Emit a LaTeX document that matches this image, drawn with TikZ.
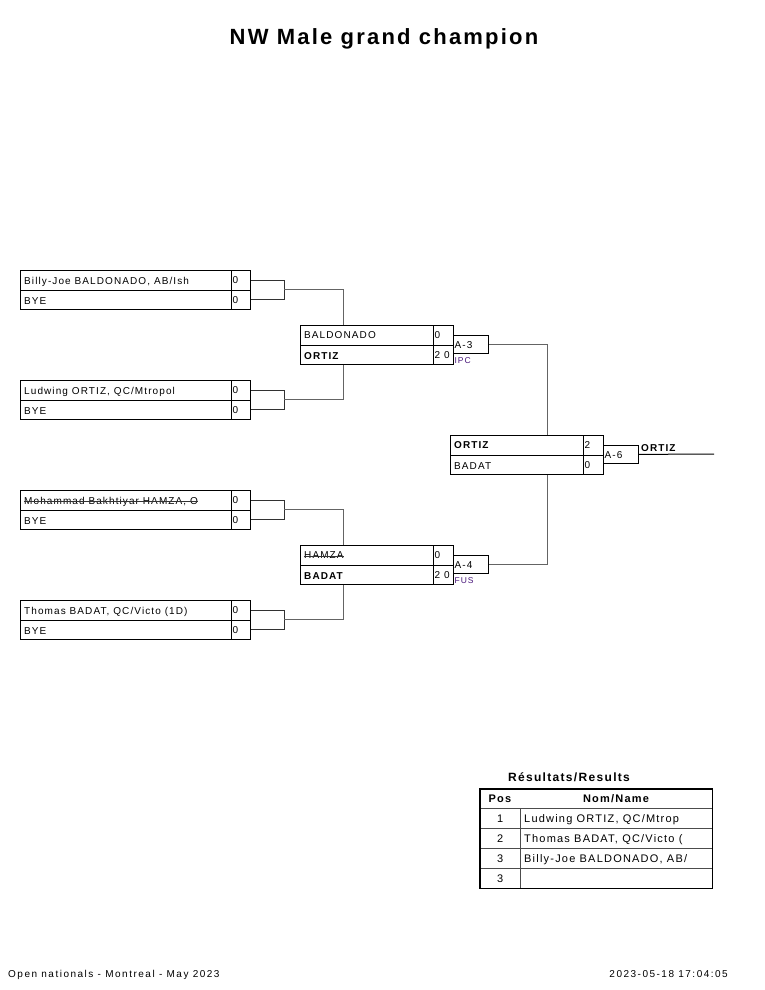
\documentclass[tikz,border=0pt]{standalone}
\usepackage{fontspec}
\setmainfont{Liberation Sans}
\newfontfamily\trk[LetterSpace=11]{Liberation Sans}
\newfontfamily\trkw[LetterSpace=15]{Liberation Sans}
\definecolor{conngray}{RGB}{100,100,100}
\definecolor{brkgray}{RGB}{50,50,50}
\definecolor{venue}{RGB}{70,20,120}
\begin{document}
\begin{tikzpicture}[x=1pt,y=-1pt,
  cell/.style={draw=black, line width=0.9pt, rectangle, inner sep=0pt, anchor=north west},
  namecell/.style={cell, minimum width=211pt, minimum height=19.5pt},
  scorecell/.style={cell, minimum width=19pt, minimum height=19.5pt},
  mnamecell/.style={cell, minimum width=133pt, minimum height=19.5pt},
  mscorecell/.style={cell, minimum width=20pt, minimum height=19.5pt},
  codebox/.style={draw=black, line width=0.8pt, rectangle, inner sep=0pt, anchor=north west, minimum width=35pt, minimum height=18pt},
  txt/.style={anchor=base west, inner sep=0pt, font=\trk\fontsize{10}{12}\selectfont},
  btxt/.style={anchor=base west, inner sep=0pt, font=\trk\bfseries\fontsize{10}{12}\selectfont},
  venuetxt/.style={anchor=base west, inner sep=0pt, text=venue, font=\trk\fontsize{8.5}{10}\selectfont},
  brk/.style={draw=brkgray, line width=0.9pt},
  conn/.style={draw=conngray, line width=0.8pt},
  strike/.style={draw=black!80, line width=0.7pt},
  tcell/.style={draw=black!70, line width=0.6pt, rectangle, inner sep=0pt, anchor=north west, minimum height=20pt},
  ttxt/.style={inner sep=0pt, font=\trk\fontsize{11}{13}\selectfont},
  thtxt/.style={inner sep=0pt, font=\trk\bfseries\fontsize{11}{13}\selectfont},
  foot/.style={inner sep=0pt, font=\trkw\fontsize{10}{12}\selectfont}
]
\useasboundingbox (0,0) rectangle (765,990);

% title
\node[anchor=base, inner sep=0pt, font=\bfseries\addfontfeatures{LetterSpace=10}\fontsize{22}{26}\selectfont] (title) at (384,44.5) {NW Male grand champion};

% ---------- round 1, pair 1
\node[namecell] (p1) at (20,270) {};
\node[scorecell] (p1s) at (231,270) {};
\node[namecell] (p2) at (20,289.5) {};
\node[scorecell] (p2s) at (231,289.5) {};
\node[txt] (p1t) at ([xshift=4pt,yshift=-4.3pt]p1.west) {Billy-Joe BALDONADO, AB/Ish};
\node[txt] (p1st) at ([xshift=1.5pt,yshift=-3.5pt]p1s.west) {0};
\node[txt] (p2t) at ([xshift=4pt,yshift=-4.3pt]p2.west) {BYE};
\node[txt] (p2st) at ([xshift=1.5pt,yshift=-3.5pt]p2s.west) {0};

% ---------- round 1, pair 2
\node[namecell] (p3) at (20,380) {};
\node[scorecell] (p3s) at (231,380) {};
\node[namecell] (p4) at (20,399.5) {};
\node[scorecell] (p4s) at (231,399.5) {};
\node[txt] (p3t) at ([xshift=4pt,yshift=-4.3pt]p3.west) {Ludwing ORTIZ, QC/Mtropol};
\node[txt] (p3st) at ([xshift=1.5pt,yshift=-3.5pt]p3s.west) {0};
\node[txt] (p4t) at ([xshift=4pt,yshift=-4.3pt]p4.west) {BYE};
\node[txt] (p4st) at ([xshift=1.5pt,yshift=-3.5pt]p4s.west) {0};

% ---------- round 1, pair 3
\node[namecell] (p5) at (20,490) {};
\node[scorecell] (p5s) at (231,490) {};
\node[namecell] (p6) at (20,509.5) {};
\node[scorecell] (p6s) at (231,509.5) {};
\node[txt] (p5t) at ([xshift=4pt,yshift=-4.3pt]p5.west) {Mohammad Bakhtiyar HAMZA, O};
\node[txt] (p5st) at ([xshift=1.5pt,yshift=-3.5pt]p5s.west) {0};
\node[txt] (p6t) at ([xshift=4pt,yshift=-4.3pt]p6.west) {BYE};
\node[txt] (p6st) at ([xshift=1.5pt,yshift=-3.5pt]p6s.west) {0};
\draw[strike] ([yshift=2.8pt]p5t.base west) -- ([yshift=2.8pt]p5t.base east);

% ---------- round 1, pair 4
\node[namecell] (p7) at (20,600) {};
\node[scorecell] (p7s) at (231,600) {};
\node[namecell] (p8) at (20,619.5) {};
\node[scorecell] (p8s) at (231,619.5) {};
\node[txt] (p7t) at ([xshift=4pt,yshift=-4.3pt]p7.west) {Thomas BADAT, QC/Victo (1D)};
\node[txt] (p7st) at ([xshift=1.5pt,yshift=-3.5pt]p7s.west) {0};
\node[txt] (p8t) at ([xshift=4pt,yshift=-4.3pt]p8.west) {BYE};
\node[txt] (p8st) at ([xshift=1.5pt,yshift=-3.5pt]p8s.west) {0};

% ---------- semi 1 (A-3)
\node[mnamecell] (m1a) at (300,325) {};
\node[mscorecell] (m1as) at (433,325) {};
\node[mnamecell] (m1b) at (300,344.5) {};
\node[mscorecell] (m1bs) at (433,344.5) {};
\node[txt] (m1at) at ([xshift=4pt,yshift=-3.5pt]m1a.west) {BALDONADO};
\node[txt] (m1ast) at ([xshift=1.5pt,yshift=-3.5pt]m1as.west) {0};
\node[btxt] (m1bt) at ([xshift=4pt,yshift=-4.3pt]m1b.west) {ORTIZ};
\node[txt] (m1bst) at ([xshift=1.5pt,yshift=-3.5pt]m1bs.west) {2 0};
\node[codebox] (a3) at (453,335) {};
\node[txt] (a3t) at ([xshift=1.5pt,yshift=-4pt]a3.west) {A-3};
\node[venuetxt] (a3v) at ([xshift=1.5pt,yshift=-9.5pt]a3.south west) {IPC};

% ---------- semi 2 (A-4)
\node[mnamecell] (m2a) at (300,545) {};
\node[mscorecell] (m2as) at (433,545) {};
\node[mnamecell] (m2b) at (300,564.5) {};
\node[mscorecell] (m2bs) at (433,564.5) {};
\node[txt] (m2at) at ([xshift=4pt,yshift=-3.5pt]m2a.west) {HAMZA};
\node[txt] (m2ast) at ([xshift=1.5pt,yshift=-3.5pt]m2as.west) {0};
\node[btxt] (m2bt) at ([xshift=4pt,yshift=-4.3pt]m2b.west) {BADAT};
\node[txt] (m2bst) at ([xshift=1.5pt,yshift=-3.5pt]m2bs.west) {2 0};
\draw[strike] ([yshift=2.8pt]m2at.base west) -- ([yshift=2.8pt]m2at.base east);
\node[codebox] (a4) at (453,555) {};
\node[txt] (a4t) at ([xshift=1.5pt,yshift=-4pt]a4.west) {A-4};
\node[venuetxt] (a4v) at ([xshift=1.5pt,yshift=-9.5pt]a4.south west) {FUS};

% ---------- final (A-6)
\node[mnamecell] (f1) at (450,435) {};
\node[mscorecell] (f1s) at (583,435) {};
\node[mnamecell] (f2) at (450,454.5) {};
\node[mscorecell] (f2s) at (583,454.5) {};
\node[btxt] (f1t) at ([xshift=4pt,yshift=-3.5pt]f1.west) {ORTIZ};
\node[txt] (f1st) at ([xshift=1.5pt,yshift=-3.5pt]f1s.west) {2};
\node[txt] (f2t) at ([xshift=4pt,yshift=-4.3pt]f2.west) {BADAT};
\node[txt] (f2st) at ([xshift=1.5pt,yshift=-3.5pt]f2s.west) {0};
\node[codebox] (a6) at (603,445) {};
\node[txt] (a6t) at ([xshift=1.5pt,yshift=-4pt]a6.west) {A-6};
\coordinate (wend) at (714,454);
\draw[draw=black, line width=1pt] (a6.east) -- (wend);
\node[btxt] (win) at (641,451) {ORTIZ};

% ---------- connectors round 1
\coordinate (j1) at (284,289.5);
\coordinate (j2) at (284,399.5);
\coordinate (j3) at (284,509.5);
\coordinate (j4) at (284,619.5);
\draw[brk] (p1s.east) -- (p1s.east -| j1) -- (p2s.east -| j1) -- (p2s.east);
\draw[brk] (p3s.east) -- (p3s.east -| j2) -- (p4s.east -| j2) -- (p4s.east);
\draw[brk] (p5s.east) -- (p5s.east -| j3) -- (p6s.east -| j3) -- (p6s.east);
\draw[brk] (p7s.east) -- (p7s.east -| j4) -- (p8s.east -| j4) -- (p8s.east);
\coordinate (m1in) at ([xshift=43pt]m1a.north west);
\coordinate (m1out) at ([xshift=43pt]m1b.south west);
\coordinate (m2in) at ([xshift=43pt]m2a.north west);
\coordinate (m2out) at ([xshift=43pt]m2b.south west);
\draw[conn] (j1) -| (m1in);
\draw[conn] (j2) -| (m1out);
\draw[conn] (j3) -| (m2in);
\draw[conn] (j4) -| (m2out);

% ---------- connectors semis -> final
\coordinate (fin) at ([xshift=97pt]f1.north west);
\coordinate (fout) at ([xshift=97pt]f2.south west);
\draw[conn] (a3.east) -| (fin);
\draw[conn] (a4.east) -| (fout);

% ---------- results table
\node[anchor=base, inner sep=0pt, font=\trk\bfseries\fontsize{12}{14}\selectfont] (rtitle) at (569,781.5) {Résultats/Results};
\node[tcell, minimum width=232pt, minimum height=19pt] (th) at (480,789) {};
\node[tcell, minimum width=40pt] (r1p) at (480,808) {};
\node[tcell, minimum width=192pt] (r1n) at (520,808) {};
\node[tcell, minimum width=40pt] (r2p) at (480,828) {};
\node[tcell, minimum width=192pt] (r2n) at (520,828) {};
\node[tcell, minimum width=40pt] (r3p) at (480,848) {};
\node[tcell, minimum width=192pt] (r3n) at (520,848) {};
\node[tcell, minimum width=40pt] (r4p) at (480,868) {};
\node[tcell, minimum width=192pt] (r4n) at (520,868) {};
\draw[line width=1.3pt, draw=black] (th.north west) rectangle (r4n.south east);
\node[thtxt, anchor=base] (thpos) at (500,802.5) {Pos};
\node[thtxt, anchor=base] (thname) at (616,802.5) {Nom/Name};
\node[ttxt, anchor=base] (r1pt) at ([yshift=-4pt]r1p.center) {1};
\node[ttxt, anchor=base west] (r1nt) at ([xshift=4pt,yshift=-4pt]r1n.west) {Ludwing ORTIZ, QC/Mtrop};
\node[ttxt, anchor=base] (r2pt) at ([yshift=-4pt]r2p.center) {2};
\node[ttxt, anchor=base west] (r2nt) at ([xshift=4pt,yshift=-4pt]r2n.west) {Thomas BADAT, QC/Victo (};
\node[ttxt, anchor=base] (r3pt) at ([yshift=-4pt]r3p.center) {3};
\node[ttxt, anchor=base west] (r3nt) at ([xshift=4pt,yshift=-4pt]r3n.west) {Billy-Joe BALDONADO, AB/};
\node[ttxt, anchor=base] (r4pt) at ([yshift=-4pt]r4p.center) {3};

% ---------- footer
\node[foot, anchor=base west] (fleft) at (8,977) {Open nationals - Montreal - May 2023};
\node[foot, anchor=base east] (fright) at (728,977) {2023-05-18 17:04:05};
\end{tikzpicture}
\end{document}
